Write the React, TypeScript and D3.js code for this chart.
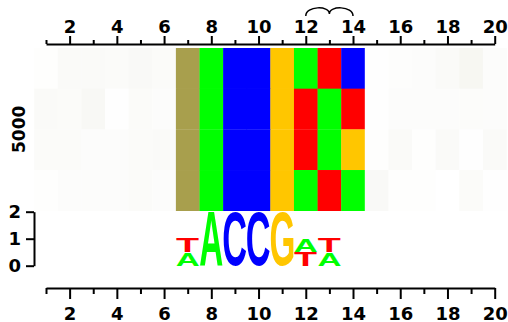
import { useEffect, useRef } from "react";
import * as d3 from "d3";

// sequence positions along the motif
const positions = [1, 2, 3, 4, 5, 6, 7, 8, 9, 10, 11, 12, 13, 14, 15, 16, 17, 18, 19, 20];
const tickLabels = [2, 4, 6, 8, 10, 12, 14, 16, 18, 20];

// one string per heatmap row, one char per position ("." = background)
const readRows = [
  "......WACCGATC......",
  "......WACCGTAT......",
  "......WACCGTAG......",
  "......WACCGATA......",
];

// faint background shading of the empty cells (0..1)
const shadeRows = [
  [0.1, 0.35, 0.35, 0.3, 0.4, 0.3, 0, 0, 0, 0, 0, 0, 0, 0, 0.05, 0.15, 0.2, 0.35, 0.6, 0.2],
  [0.35, 0.3, 0.5, 0.05, 0.3, 0.2, 0, 0, 0, 0, 0, 0, 0, 0, 0.05, 0.2, 0.2, 0.2, 0.25, 0.2],
  [0.3, 0.3, 0.2, 0.2, 0.3, 0.35, 0, 0, 0, 0, 0, 0, 0, 0, 0.1, 0.35, 0.1, 0.35, 0.05, 0.35],
  [0.1, 0.2, 0.2, 0.2, 0.3, 0.2, 0, 0, 0, 0, 0, 0, 0, 0, 0.4, 0.1, 0.1, 0, 0.3, 0.05],
];

const rowLabel = "5000";

// logo stacks, bottom to top: [base, bits]
const logoPositions = [7, 8, 9, 10, 11, 12, 13];
const logoStacks: [string, number][][] = [
  [["A", 0.5], ["T", 0.5]],
  [["A", 2]],
  [["C", 2]],
  [["C", 2]],
  [["G", 2]],
  [["T", 0.5], ["A", 0.5]],
  [["A", 0.5], ["T", 0.5]],
];
const bitTicks = [0, 1, 2];

const baseColors: Record<string, string> = {
  A: "#00ff00",
  C: "#0000ff",
  G: "#ffc600",
  T: "#ff0000",
  W: "#a89f4d",
};

const FONT = "DejaVu Sans";
const LETTER_FONT = "Liberation Sans";

function glyphBox(ch: string) {
  const ctx = document.createElement("canvas").getContext("2d")!;
  ctx.font = `bold 100px "${LETTER_FONT}"`;
  const m = ctx.measureText(ch);
  return {
    left: m.actualBoundingBoxLeft,
    w: m.actualBoundingBoxLeft + m.actualBoundingBoxRight,
    asc: m.actualBoundingBoxAscent,
    h: m.actualBoundingBoxAscent + m.actualBoundingBoxDescent,
  };
}

export default function App() {
  const svgRef = useRef<SVGSVGElement>(null);

  useEffect(() => {
    if (!svgRef.current) return;
    const svg = d3.select(svgRef.current);
    svg.selectAll("*").remove();

    const x = d3.scaleLinear().domain([1, 20]).range([46, 494.7]);
    const colW = x(2) - x(1);
    const y = d3.scaleBand<number>().domain([0, 1, 2, 3]).range([48, 210.7]);
    const yBits = d3.scaleLinear().domain([0, 2]).range([265.7, 211.7]);
    const shade = d3.interpolateRgb("#ffffff", "#f1f1ea");

    // heatmap
    const cells = readRows.flatMap((row, r) =>
      positions.map((p, i) => ({ r, p, base: row[i], v: shadeRows[r][i] }))
    );
    svg
      .append("g")
      .selectAll("rect")
      .data(cells)
      .enter()
      .append("rect")
      .attr("x", (d) => x(d.p) - colW / 2)
      .attr("y", (d) => y(d.r)!)
      .attr("width", colW + 0.3)
      .attr("height", y.bandwidth() + 0.3)
      .attr("fill", (d) => (d.base === "." ? shade(d.v) : baseColors[d.base]));

    const styleAxis = (g: d3.Selection<SVGGElement, unknown, null, undefined>) => {
      g.attr("font-size", null).attr("font-family", null);
      g.select(".domain").attr("stroke", "#000").attr("stroke-width", 2);
      g.selectAll(".tick line").attr("stroke", "#000").attr("stroke-width", 2);
      g.selectAll("text")
        .attr("fill", "#000")
        .style("font-family", FONT)
        .style("font-weight", "bold")
        .style("font-size", "18px");
    };
    const fmt = (d: d3.NumberValue) => (tickLabels.includes(+d) ? String(d) : "");

    // top axis
    const top = svg
      .append("g")
      .attr("transform", "translate(0,44)")
      .call(d3.axisTop(x).tickValues(positions).tickSizeOuter(0).tickFormat(fmt));
    styleAxis(top);
    top.selectAll<SVGLineElement, number>(".tick line").attr("y2", (d) => (d % 2 === 0 ? -8 : -4));
    top.selectAll("text").attr("y", -11).attr("dy", 0);

    // bottom axis
    const bottom = svg
      .append("g")
      .attr("transform", "translate(0,288)")
      .call(d3.axisBottom(x).tickValues(positions).tickSizeOuter(0).tickFormat(fmt));
    styleAxis(bottom);
    bottom.selectAll<SVGLineElement, number>(".tick line").attr("y2", (d) => (d % 2 === 0 ? 11 : 6));
    bottom.selectAll("text").attr("y", 31.5).attr("dy", 0);

    // logo bits axis
    const left = svg
      .append("g")
      .attr("transform", "translate(34,0)")
      .call(
        d3
          .axisLeft(yBits)
          .tickValues(bitTicks)
          .tickSize(8)
          .tickPadding(5)
          .tickSizeOuter(0)
          .tickFormat(d3.format("d"))
      );
    styleAxis(left);

    // row label
    svg
      .append("text")
      .attr("transform", `translate(25,${(y(0)! + y(3)! + y.bandwidth()) / 2}) rotate(-90)`)
      .attr("text-anchor", "middle")
      .style("font-family", FONT)
      .style("font-weight", "bold")
      .style("font-size", "17px")
      .text(rowLabel);

    // sequence logo letters
    const letters: { ch: string; x0: number; y0: number; h: number }[] = [];
    logoPositions.forEach((p, i) => {
      let acc = 0;
      logoStacks[i].forEach(([ch, bits]) => {
        const yBottom = yBits(acc);
        const yTop = yBits(acc + bits);
        letters.push({ ch, x0: x(p) - colW / 2, y0: yTop, h: yBottom - yTop });
        acc += bits;
      });
    });
    const lg = svg.append("g");
    letters.forEach((l) => {
      const b = glyphBox(l.ch);
      lg.append("text")
        .attr(
          "transform",
          `translate(${l.x0 + 0.5},${l.y0}) scale(${(colW - 1) / b.w},${l.h / b.h})`
        )
        .attr("x", b.left)
        .attr("y", b.asc)
        .attr("font-family", LETTER_FONT)
        .attr("font-weight", "bold")
        .attr("font-size", "100px")
        .attr("fill", baseColors[l.ch])
        .text(l.ch);
    });

    // brace over positions 12-14
    const xa = x(12);
    const xm = x(13);
    const xb = x(14);
    svg
      .append("path")
      .attr("d", `M${xa},16 C${xa},6 ${xm},5 ${xm},14 C${xm},5 ${xb},6 ${xb},16`)
      .attr("fill", "none")
      .attr("stroke", "#000")
      .attr("stroke-width", 1.5);
  }, []);

  return (
    <svg
      ref={svgRef}
      width={508}
      height={322}
      style={{ position: "absolute", left: 0, top: 0, background: "#fff" }}
    />
  );
}
